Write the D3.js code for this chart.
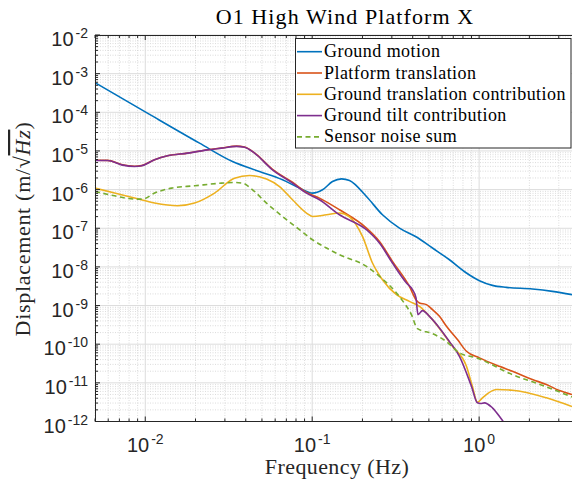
<!DOCTYPE html>
<html><head><meta charset="utf-8">
<script src="https://cdn.jsdelivr.net/npm/d3@7"></script>
<style>body{margin:0;background:#fff;} svg{display:block}</style>
</head><body>
<script>
// ---------- data ----------
const titleText = "O1 High Wind Platform X";
const xLabelText = "Frequency (Hz)";
const xDomain = [0.005, 3.6];
const yDomain = [1e-12, 1e-2];
const xTickExponents = [-2, -1, 0];
const yTickExponents = [-12, -11, -10, -9, -8, -7, -6, -5, -4, -3, -2];
const seriesNames = ["Ground motion", "Platform translation", "Ground translation contribution", "Ground tilt contribution", "Sensor noise sum"];
const seriesColors = ["#0072BD", "#D95319", "#EDB120", "#7E2F8E", "#77AC30"];

const groundMotionFreq = [0.005, 0.01061, 0.02114, 0.03332, 0.04834, 0.06642, 0.08395, 0.1004, 0.1153, 0.1323, 0.1498, 0.1673, 0.2114, 0.2636, 0.3333, 0.4213, 0.5254, 0.6642, 0.8395, 1.004, 1.201, 1.457, 2.085, 2.747, 3.6];
const groundMotion = [5.85e-4, 8.82e-5, 1.59e-5, 5.32e-6, 2.94e-6, 1.79e-6, 1.094e-6, 8.12e-7, 9.88e-7, 1.62e-6, 1.90e-6, 1.72e-6, 6.63e-7, 2.23e-7, 1.01e-7, 5.92e-8, 3.08e-8, 1.53e-8, 6.96e-9, 4.40e-9, 3.33e-9, 2.95e-9, 2.68e-9, 2.33e-9, 1.91e-9];

const platformFreq = [0.005, 0.00595, 0.00721, 0.00863, 0.0095, 0.01137, 0.0136, 0.01792, 0.02361, 0.02863, 0.03521, 0.03932, 0.04512, 0.05784, 0.07621, 0.09245, 0.1106, 0.1457, 0.2114, 0.2529, 0.3026, 0.3824, 0.4184, 0.439, 0.4835, 0.5254, 0.5785, 0.6372, 0.7415, 0.8395, 1.004, 1.323, 1.582, 2.085, 2.529, 3.026, 3.6];
const platform = [5.75e-6, 5.72e-6, 4.45e-6, 4.02e-6, 4.18e-6, 5.93e-6, 7.5e-6, 8.8e-6, 1.07e-5, 1.19e-5, 1.33e-5, 1.27e-5, 8.9e-6, 3.35e-6, 1.55e-6, 8.5e-7, 6.03e-7, 3.01e-7, 1.01e-7, 4.56e-8, 1.39e-8, 3.13e-9, 1.42e-9, 1.17e-9, 1.055e-9, 7.83e-10, 5.26e-10, 2.90e-10, 1.315e-10, 6.55e-11, 4.43e-11, 2.68e-11, 1.99e-11, 1.22e-11, 9.04e-12, 6.32e-12, 4.98e-12];

const groundTransFreq = [0.005, 0.00655, 0.00863, 0.01137, 0.01561, 0.01973, 0.026, 0.03424, 0.04212, 0.05325, 0.06372, 0.07621, 0.09245, 0.1004, 0.1218, 0.1457, 0.1673, 0.2001, 0.2297, 0.2636, 0.3197, 0.3824, 0.439, 0.5254, 0.6921, 0.8395, 0.9107, 0.9768, 1.047, 1.269, 1.582, 2.529, 3.6];
const groundTrans = [1.094e-6, 8.12e-7, 6.03e-7, 4.48e-7, 3.81e-7, 4.48e-7, 8.12e-7, 1.98e-6, 2.31e-6, 1.87e-6, 1.202e-6, 5.45e-7, 2.47e-7, 2.02e-7, 2.23e-7, 2.47e-7, 1.98e-7, 6.14e-8, 1.26e-8, 4.67e-9, 1.91e-9, 1.28e-9, 9.54e-10, 4.32e-10, 8.82e-11, 2.68e-11, 8.17e-12, 3.15e-12, 4.10e-12, 6.71e-12, 6.44e-12, 4.10e-12, 2.44e-12];

const groundTiltFreq = [0.005, 0.00595, 0.00721, 0.00863, 0.0095, 0.01137, 0.0136, 0.01792, 0.02361, 0.02863, 0.03521, 0.03932, 0.04512, 0.05784, 0.07621, 0.09245, 0.1106, 0.1457, 0.2114, 0.2529, 0.3026, 0.367, 0.3986, 0.4184, 0.43, 0.4576, 0.504, 0.5785, 0.6642, 0.7621, 0.8993, 0.9768, 1.018, 1.076, 1.201, 1.39, 1.743];
const groundTilt = [5.65e-6, 5.65e-6, 4.37e-6, 3.95e-6, 4.12e-6, 5.89e-6, 7.47e-6, 8.77e-6, 1.067e-5, 1.181e-5, 1.315e-5, 1.253e-5, 8.77e-6, 3.25e-6, 1.47e-6, 8.12e-7, 5.45e-7, 2.23e-7, 9.15e-8, 4.15e-8, 1.26e-8, 3.84e-9, 2.58e-9, 1.60e-9, 5.82e-10, 7.38e-10, 5.26e-10, 2.64e-10, 1.167e-10, 4.87e-11, 8.17e-12, 3.04e-12, 2.92e-12, 3.04e-12, 2.26e-12, 1.02e-12, 3.23e-13];

const sensorNoiseFreq = [0.005, 0.00655, 0.00863, 0.00963, 0.01137, 0.01437, 0.01973, 0.02863, 0.03424, 0.03825, 0.04391, 0.05325, 0.06642, 0.08395, 0.1004, 0.1218, 0.1457, 0.2114, 0.2529, 0.3197, 0.3473, 0.3932, 0.4271, 0.5254, 0.6372, 0.7621, 0.9634, 1.582, 2.529, 3.6];
const sensorNoise = [8.93e-7, 6.92e-7, 5.68e-7, 5.68e-7, 8.12e-7, 1.094e-6, 1.253e-6, 1.47e-6, 1.526e-6, 1.47e-6, 9.88e-7, 4.48e-7, 2.02e-7, 9.15e-8, 5.04e-8, 3.08e-8, 2.07e-8, 1.03e-8, 5.68e-9, 2.12e-9, 1.34e-9, 5.82e-10, 2.53e-10, 1.88e-10, 1.167e-10, 5.96e-11, 4.43e-11, 1.64e-11, 7.88e-12, 4.3e-12];

// ---------- layout ----------
const W = 572, H = 482;
const M = {left: 95, right: 572, top: 35, bottom: 421.5};
const serif = "'Liberation Serif', 'Times New Roman', serif";
const sans = "'Liberation Sans', Arial, Helvetica, sans-serif";
const axisColor = "#262626";

const svg = d3.select("body").append("svg").attr("width", W).attr("height", H);
const x = d3.scaleLog().domain(xDomain).range([M.left, M.right]);
const y = d3.scaleLog().domain(yDomain).range([M.bottom, M.top]);

svg.append("rect").attr("x", M.left).attr("y", M.top).attr("width", M.right - M.left).attr("height", M.bottom - M.top).attr("fill", "#fff");

function logTicks(domain) {
  const major = [], minor = [];
  const e0 = Math.floor(Math.log10(domain[0])), e1 = Math.ceil(Math.log10(domain[1]));
  for (let e = e0; e <= e1; e++) {
    for (let k = 1; k <= 9; k++) {
      const v = +(k * Math.pow(10, e)).toPrecision(6);
      if (v < domain[0] * 0.9999 || v > domain[1] * 1.0001) continue;
      (k === 1 ? major : minor).push(v);
    }
  }
  return {major, minor};
}
const xt = logTicks(xDomain), yt = logTicks(yDomain);

// grid
const grid = svg.append("g");
grid.selectAll(".xminor").data(xt.minor).enter().append("line")
  .attr("x1", d => x(d)).attr("x2", d => x(d)).attr("y1", M.top).attr("y2", M.bottom)
  .attr("stroke", "#c4c4c4").attr("stroke-width", 0.6).attr("stroke-dasharray", "1,1.5");
grid.selectAll(".yminor").data(yt.minor).enter().append("line")
  .attr("y1", d => y(d)).attr("y2", d => y(d)).attr("x1", M.left).attr("x2", M.right)
  .attr("stroke", "#c4c4c4").attr("stroke-width", 0.6).attr("stroke-dasharray", "1,1.5");
grid.selectAll(".xmajor").data(xt.major).enter().append("line")
  .attr("x1", d => x(d)).attr("x2", d => x(d)).attr("y1", M.top).attr("y2", M.bottom)
  .attr("stroke", "#dcdcdc").attr("stroke-width", 1);
grid.selectAll(".ymajor").data(yt.major).enter().append("line")
  .attr("y1", d => y(d)).attr("y2", d => y(d)).attr("x1", M.left).attr("x2", M.right)
  .attr("stroke", "#dcdcdc").attr("stroke-width", 1);

// curves
svg.append("clipPath").attr("id", "clip").append("rect")
  .attr("x", M.left).attr("y", M.top).attr("width", M.right - M.left).attr("height", M.bottom - M.top);
const series = [
  {f: groundMotionFreq, v: groundMotion, i: 0},
  {f: platformFreq, v: platform, i: 1},
  {f: groundTransFreq, v: groundTrans, i: 2},
  {f: groundTiltFreq, v: groundTilt, i: 3},
  {f: sensorNoiseFreq, v: sensorNoise, i: 4, dash: "5,3.5"}
];
const line = d3.line().x(d => x(d[0])).y(d => y(d[1])).curve(d3.curveMonotoneX);
const plot = svg.append("g").attr("clip-path", "url(#clip)");
series.forEach(s => {
  plot.append("path").datum(s.f.map((f, j) => [f, s.v[j]]))
    .attr("d", line).attr("fill", "none").attr("stroke", seriesColors[s.i])
    .attr("stroke-width", 1.6).attr("stroke-linejoin", "round")
    .attr("stroke-dasharray", s.dash || null);
});

// axes lines and ticks
const ax = svg.append("g").attr("stroke", axisColor).attr("stroke-width", 1);
ax.append("line").attr("x1", M.left + 0.5).attr("x2", M.left + 0.5).attr("y1", M.top).attr("y2", M.bottom);
ax.append("line").attr("x1", M.left).attr("x2", M.right).attr("y1", M.bottom).attr("y2", M.bottom);
ax.append("line").attr("x1", M.left).attr("x2", M.right).attr("y1", M.top + 0.5).attr("y2", M.top + 0.5);
xt.major.concat(xt.minor).forEach(v => {
  const L = xt.major.includes(v) ? 5 : 3;
  ax.append("line").attr("x1", x(v)).attr("x2", x(v)).attr("y1", M.bottom).attr("y2", M.bottom - L);
  ax.append("line").attr("x1", x(v)).attr("x2", x(v)).attr("y1", M.top).attr("y2", M.top + L);
});
yt.major.concat(yt.minor).forEach(v => {
  const L = yt.major.includes(v) ? 5 : 3;
  ax.append("line").attr("y1", y(v)).attr("y2", y(v)).attr("x1", M.left).attr("x2", M.left + L);
});

// tick labels
const yl = svg.append("g").attr("font-family", sans).attr("fill", "#262626");
yTickExponents.forEach(e => {
  const t = yl.append("text").attr("x", 88).attr("y", y(Math.pow(10, e)) + 11).attr("text-anchor", "end");
  t.append("tspan").attr("font-size", 20).text("10");
  t.append("tspan").attr("font-size", 14).attr("dx", 2).attr("dy", -8).text(String(e));
});
const xl = svg.append("g").attr("font-family", sans).attr("fill", "#262626");
xTickExponents.forEach(e => {
  const t = xl.append("text").attr("x", x(Math.pow(10, e))).attr("y", 452).attr("text-anchor", "middle");
  t.append("tspan").attr("font-size", 20).text("10");
  t.append("tspan").attr("font-size", 14).attr("dx", 2).attr("dy", -8).text(String(e));
});

// titles
svg.append("text").attr("x", 345).attr("y", 24).attr("text-anchor", "middle")
  .attr("font-family", serif).attr("font-size", 22).attr("letter-spacing", 1.1).attr("fill", "#000").text(titleText);
svg.append("text").attr("x", 337).attr("y", 474).attr("text-anchor", "middle")
  .attr("font-family", serif).attr("font-size", 22).attr("letter-spacing", 0.4).attr("fill", "#262626").text(xLabelText);
const ylab = svg.append("text").attr("transform", "translate(30,229) rotate(-90)").attr("text-anchor", "middle")
  .attr("font-family", serif).attr("font-size", 22).attr("letter-spacing", 0.7).attr("fill", "#262626");
ylab.append("tspan").text("Displacement (m/√");
ylab.append("tspan").attr("font-style", "italic").style("text-decoration", "overline").text("Hz");
ylab.append("tspan").text(")");

// legend
const lg = svg.append("g");
lg.append("rect").attr("x", 295.5).attr("y", 38.5).attr("width", 275.5).attr("height", 109.5)
  .attr("fill", "#fff").attr("stroke", axisColor).attr("stroke-width", 1);
seriesNames.forEach((name, i) => {
  const yy = 51.7 + i * 21.3;
  lg.append("line").attr("x1", 297).attr("x2", 322).attr("y1", yy).attr("y2", yy)
    .attr("stroke", seriesColors[i]).attr("stroke-width", 1.6)
    .attr("stroke-dasharray", i === 4 ? "5,3.5" : null);
  lg.append("text").attr("x", 324).attr("y", yy + 5.5).attr("font-family", serif)
    .attr("font-size", 18).attr("letter-spacing", 0.45).attr("fill", "#000").text(name);
});
</script>
</body></html>
